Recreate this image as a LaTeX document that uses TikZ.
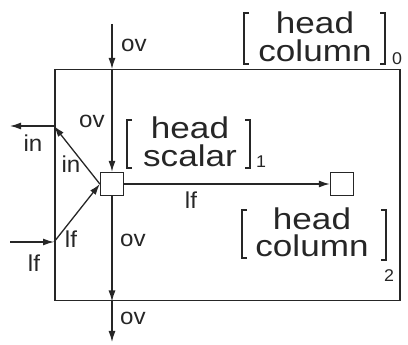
\documentclass[tikz,border=0pt]{standalone}
\usepackage{fontspec}
\setmainfont{Liberation Sans}
\newfontfamily\bigf[FakeStretch=1.17]{Liberation Sans}
\newfontfamily\smallf[FakeStretch=1.05]{Liberation Sans}
\usetikzlibrary{arrows.meta}
\begin{document}
\begin{tikzpicture}[x=1pt,y=-1pt,
  conn/.style={line width=1.3pt, draw=black!85},
  arr/.style={conn,-{Latex[length=11pt,width=7pt]}},
  lbl/.style={font=\smallf\fontsize{23}{23}\selectfont, text=black!85, inner sep=0pt, anchor=base},
  big/.style={font=\bigf\fontsize{30}{28}\selectfont, text=black!85, inner sep=0pt, align=center, anchor=base},
  sub/.style={font=\smallf\fontsize{17}{17}\selectfont, text=black!85, inner sep=0pt, anchor=base},
  brk/.style={line width=1.6pt, draw=black!85},
  cell/.style={draw=black!85, line width=1.3pt, minimum width=23pt, minimum height=23pt, inner sep=0pt},
  framebox/.style={draw=black!85, line width=1.5pt, minimum width=345pt, minimum height=231pt, inner sep=0pt, anchor=north west}
]
\useasboundingbox (0,0) rectangle (408,345);

% frame and cells
\node[framebox] (frame) at (54,69) {};
\node[cell] (s) at (112,184) {};
\node[cell] (c) at (342,184) {};

% coordinates
\coordinate (ovstart) at (112,24);
\coordinate (ftop) at (s |- frame.north);
\coordinate (fbot) at (s |- frame.south);
\coordinate (ovend) at (112,342);
\coordinate (inpt) at (54,126);
\coordinate (inend) at (10,126);
\coordinate (lfstart) at (10,242);
\coordinate (lfpt) at (54,242);

% connectors
\draw[arr] (ovstart) -- (ftop);
\draw[arr] (ftop) -- (s.north);
\draw[arr] (s.south) -- (fbot);
\draw[arr] (fbot) -- (ovend);
\draw[arr] (s.east) -- (c.west);
\draw[arr] (s.west) -- (inpt);
\draw[arr] (inpt) -- (inend);
\draw[arr] (lfstart) -- (lfpt);
\draw[arr] (lfpt) -- (s.west);

% connector labels
\node[lbl] (l1) at (134,52) {ov};
\node[lbl] (l2) at (92,128) {ov};
\node[lbl] (l3) at (133,247) {ov};
\node[lbl] (l4) at (133,324) {ov};
\node[lbl] (l5) at (33,152) {in};
\node[lbl] (l6) at (71,173) {in};
\node[lbl] (l7) at (71,248) {lf};
\node[lbl] (l8) at (34,272) {lf};
\node[lbl] (l9) at (191,209) {lf};

% AVM 0
\node[big] (a0) at (315,62) {head\\column};
\node[sub] (a0s) at (397,65) {0};
\draw[brk] (249,13) -- (244,13) -- (244,64) -- (249,64);
\draw[brk] (380,13) -- (385,13) -- (385,64) -- (380,64);

% AVM 1
\node[big] (a1) at (190,167) {head\\scalar};
\node[sub] (a1s) at (261,168) {1};
\draw[brk] (132,120) -- (127,120) -- (127,168) -- (132,168);
\draw[brk] (245,120) -- (250,120) -- (250,168) -- (245,168);

% AVM 2
\node[big] (a2) at (312,257) {head\\column};
\node[sub] (a2s) at (389,282) {2};
\draw[brk] (247,210) -- (242,210) -- (242,258) -- (247,258);
\draw[brk] (381,210) -- (386,210) -- (386,260) -- (381,260);
\end{tikzpicture}
\end{document}
